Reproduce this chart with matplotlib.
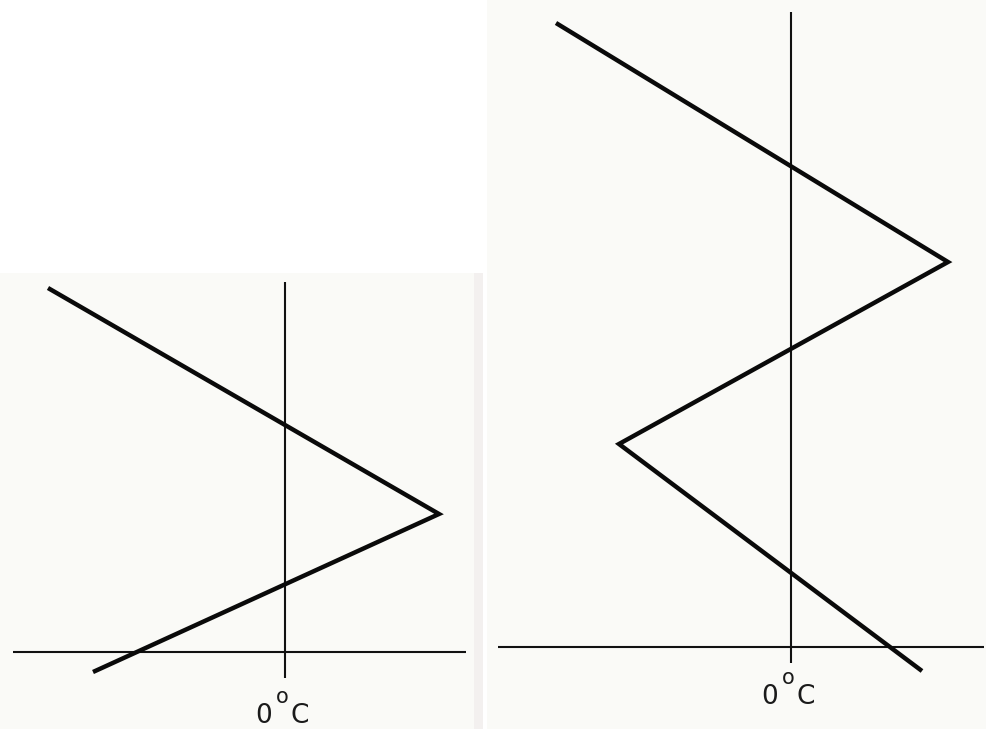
import matplotlib.pyplot as plt

# 1. Data (temperature on x, height on y; 0 = 0 deg C and ground level)
left_temp = [-23.7, 15.4, -19.2]
left_height = [36.4, 13.8, -2.0]

right_temp = [-23.5, 15.7, -17.2, 13.1]
right_height = [62.4, 38.5, 20.3, -2.4]

label_text = ['0', 'o', 'C']

# axis line extents for each panel
left_xaxis = [-27.2, 18.1]
left_yaxis = [-2.6, 37.0]
right_xaxis = [-29.3, 19.3]
right_yaxis = [-1.6, 63.5]

paper = '#fafaf7'

# 2. Figure
W, H = 987, 729
fig = plt.figure(figsize=(W / 100, H / 100), dpi=100)
fig.patch.set_facecolor('white')


def panel(rect, xlim, ylim):
    ax = fig.add_axes(rect)
    ax.set_facecolor(paper)
    ax.set_xlim(*xlim)
    ax.set_ylim(*ylim)
    ax.set_xticks([])
    ax.set_yticks([])
    for s in ax.spines.values():
        s.set_visible(False)
    return ax


def draw(ax, temp, height, xaxis, yaxis, label_y):
    ax.plot(xaxis, [0, 0], color='#111111', lw=1.5, solid_capstyle='butt')
    ax.plot([0, 0], yaxis, color='#111111', lw=1.5, solid_capstyle='butt')
    ax.plot(temp, height, color='#0a0a0a', lw=3.2, solid_joinstyle='miter', solid_capstyle='butt')
    # "0°C" label under the vertical axis
    offsets = [(-21, 0, 19), (-3, 19, 15), (15, 0, 19)]
    for txt, (dx, dy, fs) in zip(label_text, offsets):
        ax.annotate(txt, xy=(0, label_y), xytext=(dx, dy), textcoords='offset pixels',
                    ha='center', va='center', fontsize=fs, color='#1a1a1a',
                    family='DejaVu Sans', annotation_clip=False)


# left panel covers the scanned block x 0..483, y 273..729 (pixels)
ax1 = panel([0 / W, 0, 483 / W, (729 - 273) / H], (-28.5, 19.8), (-7.7, 37.9))
draw(ax1, left_temp, left_height, left_xaxis, left_yaxis, -6.4)
# faint page-edge shadow on the right of the left scan
ax1.axvspan(18.9, 19.8, color='#f3f0ef', lw=0)

# right panel covers x 487..987, full height
ax2 = panel([487 / W, 0, 500 / W, 1], (-30.4, 19.6), (-8.2, 64.7))
draw(ax2, right_temp, right_height, right_xaxis, right_yaxis, -5.0)

plt.savefig('out.png', dpi=100, facecolor=fig.get_facecolor())
